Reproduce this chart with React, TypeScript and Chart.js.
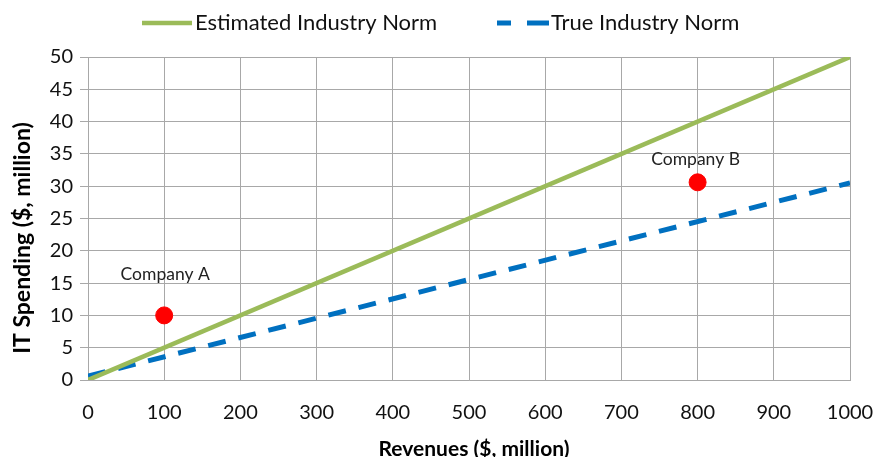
import React, { useEffect, useRef } from "react";
import { Chart, registerables } from "chart.js";

Chart.register(...registerables);

// ---- data ----
const revenueEnds = [0, 1000];
const estimatedNormEnds = [0, 50];
const trueNormEnds = [0.6, 30.5];
const seriesNames = ["Estimated Industry Norm", "True Industry Norm"];
const companyNames = ["Company A", "Company B"];
const companyRevenue = [100, 800];
const companySpending = [10, 30.6];
const xTicks = [0, 100, 200, 300, 400, 500, 600, 700, 800, 900, 1000];
const yTicks = [0, 5, 10, 15, 20, 25, 30, 35, 40, 45, 50];
const xTitle = "Revenues ($, million)";
const yTitle = "IT Spending ($, million)";

const FONT = "Lato, 'Open Sans', 'Liberation Sans', sans-serif";
const GREEN = "#9BBB59";
const BLUE = "#0070C0";
const GRID = "#a8a8a8";

const overlay = {
  id: "overlay",
  afterDraw(chart: any) {
    const ctx = chart.ctx as CanvasRenderingContext2D;
    const xs = chart.scales.x;
    const ys = chart.scales.y;
    const area = chart.chartArea;
    ctx.save();

    // company labels
    ctx.font = `17.5px ${FONT}`;
    ctx.fillStyle = "#222";
    ctx.textAlign = "center";
    ctx.textBaseline = "middle";
    const labelOffsets = [
      [1, -41],
      [-2, -23],
    ];
    companyNames.forEach((name, i) => {
      ctx.fillText(
        name,
        xs.getPixelForValue(companyRevenue[i]) + labelOffsets[i][0],
        ys.getPixelForValue(companySpending[i]) + labelOffsets[i][1]
      );
    });

    // legend
    ctx.textAlign = "left";
    ctx.font = `22px ${FONT}`;
    ctx.fillStyle = "#111";
    const legendY = 23;
    ctx.lineCap = "butt";
    ctx.strokeStyle = GREEN;
    ctx.lineWidth = 4.5;
    ctx.beginPath();
    ctx.moveTo(142, legendY);
    ctx.lineTo(192, legendY);
    ctx.stroke();
    ctx.fillText(seriesNames[0], 195, legendY);

    ctx.strokeStyle = BLUE;
    ctx.lineWidth = 5;
    ctx.setLineDash([14, 16, 22, 10]);
    ctx.beginPath();
    ctx.moveTo(497, legendY);
    ctx.lineTo(549, legendY);
    ctx.stroke();
    ctx.setLineDash([]);
    ctx.fillText(seriesNames[1], 551, legendY);

    // axis titles
    ctx.fillStyle = "#000";
    ctx.textAlign = "center";
    ctx.font = `bold 21px ${FONT}`;
    ctx.fillText(xTitle, (area.left + area.right) / 2 + 5, 449);

    ctx.translate(23, 238);
    ctx.rotate(-Math.PI / 2);
    ctx.font = `bold 23px ${FONT}`;
    ctx.fillText(yTitle, 0, 0);

    ctx.restore();
  },
};

export default function App() {
  const ref = useRef<HTMLCanvasElement | null>(null);

  useEffect(() => {
    if (!ref.current) return;
    const chart = new Chart(ref.current, {
      type: "scatter",
      data: {
        datasets: [
          {
            label: "Companies",
            data: companyRevenue.map((r, i) => ({ x: r, y: companySpending[i] })),
            backgroundColor: "#FF0000",
            borderColor: "#FF0000",
            pointRadius: 8.5,
            pointHoverRadius: 8.5,
            showLine: false,
          },
          {
            label: seriesNames[0],
            data: revenueEnds.map((r, i) => ({ x: r, y: estimatedNormEnds[i] })),
            borderColor: GREEN,
            backgroundColor: GREEN,
            borderWidth: 4.5,
            pointRadius: 0,
            showLine: true,
          },
          {
            label: seriesNames[1],
            data: revenueEnds.map((r, i) => ({ x: r, y: trueNormEnds[i] })),
            borderColor: BLUE,
            backgroundColor: BLUE,
            borderWidth: 5,
            borderDash: [18, 13],
            borderCapStyle: "butt",
            pointRadius: 0,
            showLine: true,
          },
        ],
      },
      options: {
        animation: false,
        responsive: false,
        layout: { padding: { top: 57, right: 25, left: 0, bottom: 0 } },
        plugins: {
          legend: { display: false },
          tooltip: { enabled: false },
        },
        scales: {
          x: {
            type: "linear",
            min: xTicks[0],
            max: xTicks[xTicks.length - 1],
            afterBuildTicks: (s: any) => {
              s.ticks = xTicks.map((v) => ({ value: v }));
            },
            afterFit: (s: any) => {
              s.height = 77;
              s.paddingLeft = 0;
              s.paddingRight = 0;
            },
            grid: { color: GRID, lineWidth: 1, drawTicks: false },
            border: { color: GRID, width: 1 },
            ticks: {
              padding: 21,
              color: "#111",
              font: { family: FONT, size: 20 },
              maxRotation: 0,
              autoSkip: false,
              callback: (v: any) => String(v),
            },
          },
          y: {
            type: "linear",
            min: yTicks[0],
            max: yTicks[yTicks.length - 1],
            afterBuildTicks: (s: any) => {
              s.ticks = yTicks.map((v) => ({ value: v }));
            },
            afterFit: (s: any) => {
              s.width = 88;
              s.paddingTop = 0;
              s.paddingBottom = 0;
            },
            grid: { color: GRID, lineWidth: 1, drawTicks: true, tickLength: 8 },
            border: { color: GRID, width: 1 },
            ticks: {
              padding: 7,
              color: "#111",
              font: { family: FONT, size: 20 },
              autoSkip: false,
              callback: (v: any) => String(v),
            },
          },
        },
      },
      plugins: [overlay],
    } as any);
    return () => chart.destroy();
  }, []);

  return (
    <div style={{ position: "fixed", left: 0, top: 0, width: 875, height: 457, background: "#fff" }}>
      <canvas ref={ref} width={875} height={457} style={{ display: "block" }} />
    </div>
  );
}
